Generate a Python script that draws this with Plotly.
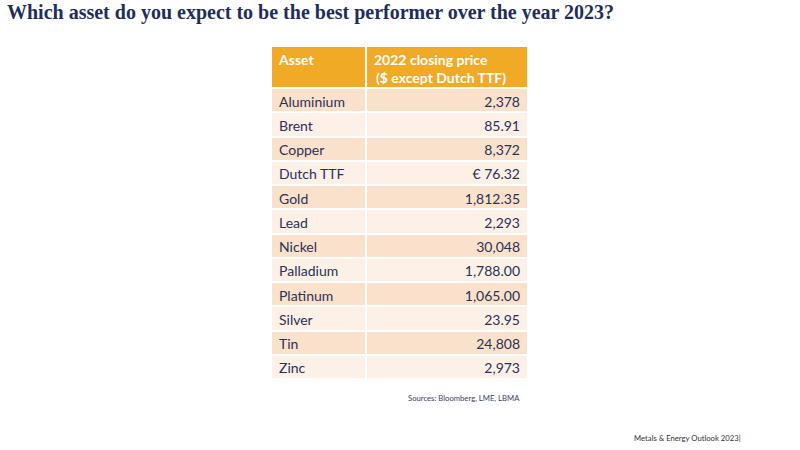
import plotly.graph_objects as go

# table content
assets = ["Aluminium", "Brent", "Copper", "Dutch TTF", "Gold", "Lead",
          "Nickel", "Palladium", "Platinum", "Silver", "Tin", "Zinc"]
prices = ["2,378", "85.91", "8,372", "€ 76.32", "1,812.35", "2,293",
          "30,048", "1,788.00", "1,065.00", "23.95", "24,808", "2,973"]
header = ["Asset", "2022 closing price"]
header_sub = "($ except Dutch TTF)"

title = "Which asset do you expect to be the best performer over the year 2023?"
source = "Sources: Bloomberg, LME, LBMA"
footer = "Metals & Energy Outlook 2023|"

W, H = 800, 450
navy = "#1f2d5c"
txt = "#2a3158"
dark_row = "#f9e1cc"
light_row = "#fcf0e7"
row_fill = [dark_row if i % 2 == 0 else light_row for i in range(len(assets))]
head_font = dict(family="Lato", size=14, color="white", weight="bold")

fig = go.Figure()
fig.add_trace(go.Table(
    domain=dict(x=[271 / W, 528 / W], y=[1 - 400 / H, 1 - 46 / H]),
    columnwidth=[95, 162],
    header=dict(
        values=header,
        fill_color="#f0aa25",
        line=dict(color="white", width=2),
        align=["left", "left"],
        font=head_font,
        height=42,
    ),
    cells=dict(
        values=[assets, prices],
        fill_color=[row_fill, row_fill],
        line=dict(color="white", width=2),
        align=["left", "right"],
        font=dict(family="Lato", size=14, color=txt),
        height=24.25,
    ),
))

# second header line (a two-line header makes plotly grow the row past 42px)
fig.add_annotation(text=header_sub, x=374 / W, y=1 - 77 / H, xref="paper", yref="paper",
                   xanchor="left", yanchor="middle", showarrow=False, font=head_font)

fig.add_annotation(text=title, x=5 / W, y=1 - 13 / H, xref="paper", yref="paper",
                   xanchor="left", yanchor="middle", showarrow=False,
                   font=dict(family="Liberation Serif", size=20, color=navy, weight="bold"))
fig.add_annotation(text=source, x=522 / W, y=1 - 398 / H, xref="paper", yref="paper",
                   xanchor="right", yanchor="middle", showarrow=False,
                   font=dict(family="Lato", size=7.7, color="#3a4060"))
fig.add_annotation(text=footer, x=743 / W, y=1 - 438 / H, xref="paper", yref="paper",
                   xanchor="right", yanchor="middle", showarrow=False,
                   font=dict(family="Lato", size=7.7, color="#333333"))

fig.update_layout(
    width=W, height=H,
    margin=dict(l=0, r=0, t=0, b=0),
    paper_bgcolor="white",
    plot_bgcolor="white",
)

# drop the page's default body margin so the figure sits at 0,0
fig.write_html("out.html", config={"displayModeBar": False},
               post_script="document.body.style.margin='0';")
